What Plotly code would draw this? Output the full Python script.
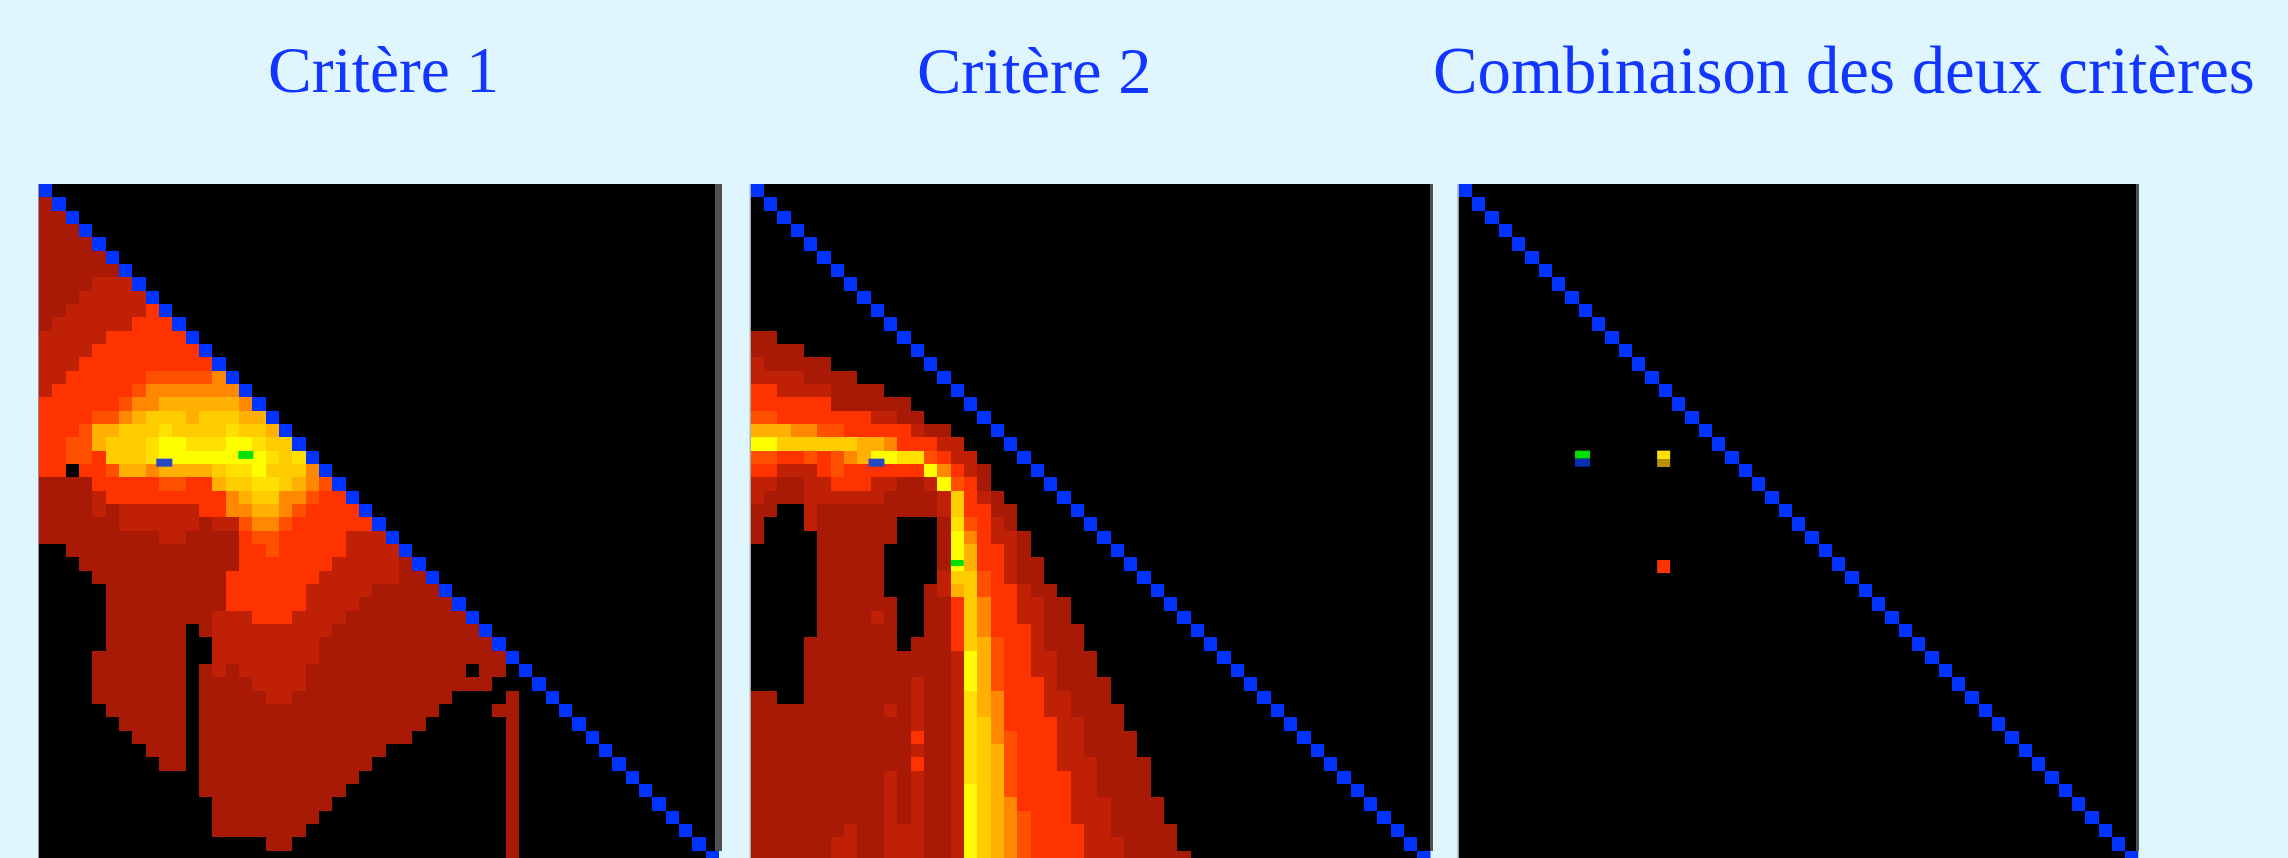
import plotly.graph_objects as go

TITLES = ["Critère 1", "Critère 2", "Combinaison des deux critères"]
TITLE_CENTERS = [383, 1034, 1844]
TITLE_SIZES = [65.5, 66.5, 66.8]

# Cell levels, written as runs per row: "<level>*<count>"; a row is padded with level 0 to its full width.
LEVEL_COLORS = {
    "0": "#000000", "1": "#A81A05", "2": "#C02005", "3": "#FF3300", "4": "#FF5000",
    "5": "#FF8800", "6": "#FFB000", "7": "#FFCC00", "8": "#FFE000", "9": "#FFFF00",
    "G": "#00E000", "B": "#0033FF", "M": "#2848C0", "D": "#B89000", "N": "#0830B0",
}

PANEL_1_ROWS = [
    "B", "1 B", "1*2 B", "1*3 B", "1*4 B", "1*5 B", "1*6 B", "1*4 2*3 B", "1*3 2*5 B",
    "1*2 2*6 3 B", "1 2*6 3*3 B", "2*5 3*6 B", "2*4 3*8 B", "2*3 3*10 B",
    "2*2 3*6 4*5 5 B", "2 3*6 4 5*7 B", "3*6 4 5*2 6*6 5 B",
    "3*4 4*2 5 6 7*3 6 7*3 6*2 B",
    "3*3 4 6*2 7*3 8 7*4 8 7*2 6 B",
    "3*2 4*2 6 7*3 8 9*2 8*3 9*2 8 7*2 B",
    "3*2 4*2 3 7*3 8 9*6 9 9 8 7 8 B",
    "3*2 0 3*2 4 6*2 5 6*4 7 8*2 9 7*3 5 B",
    "1*4 3*5 4*2 3*2 6 7*2 8*2 7 6 5 4 B",
    "1*4 2 3*9 5 6 7*2 5*2 4 3*2 B",
    "1*4 2 1 2*6 3*2 5*2 6*2 5 4 3*4 B",
    "1*6 2*6 1 2*2 4 5*2 4 3*6 B",
    "1*9 2*2 1*4 3 4*2 3*5 2*3 B",
    "0*2 1*13 3*2 4 3*5 2*4 B",
    "0*3 1*12 3*7 2*5 1 B",
    "0*4 1*10 3*7 2*6 1*2 B",
    "0*5 1*9 3*6 2*5 1*5 B",
    "0*5 1*9 3*6 2*4 1*7 B",
    "0*5 1*8 2*3 3*3 2*4 1*9 B",
    "0*5 1*6 0 1 2*9 1*11 B",
    "0*5 1*6 0*2 2*8 1*13 B",
    "0*4 1*7 0*2 2*8 1*14 B",
    "0*4 1*7 0 1 2 1 2*5 1*12 0 1*2 0 B",
    "0*4 1*7 0 1*4 2*4 1*14 0*3 B",
    "0*4 1*7 0 1*5 2*2 1*12 0*4 1 0*2 B",
    "0*5 1*6 0 1*18 0*4 1*2 0*3 B",
    "0*6 1*5 0 1*17 0*6 1 0*4 B",
    "0*7 1*4 0 1*16 0*7 1 0*5 B",
    "0*8 1*3 0 1*14 0*9 1 0*6 B",
    "0*9 1*2 0 1*13 0*10 1 0*7 B",
    "0*12 1*12 0*11 1 0*8 B",
    "0*12 1*11 0*12 1 0*9 B",
    "0*13 1*9 0*13 1 0*10 B",
    "0*13 1*8 0*14 1 0*11 B",
    "0*13 1*7 0*15 1 0*12 B",
    "0*17 1*2 0*16 1 0*13 B",
    "0*35 1 0*14 B",
]

PANEL_2_ROWS = [
    "B", "0 B", "0*2 B", "0*3 B", "0*4 B", "0*5 B", "0*6 B", "0*7 B", "0*8 B", "0*9 B", "0*10 B",
    "1*2 0*9 B",
    "1*4 0*8 B",
    "2 1*5 0*7 B",
    "2*4 1*4 0*6 B",
    "3*2 2*4 1*4 0*5 B",
    "3*6 1*6 0*4 B",
    "4*2 3*7 2*2 1*2 0*4 B",
    "6*3 5*2 4*2 3*5 2 1*2 0*3 B",
    "9*2 7*6 6*2 5 3*3 2*2 0*3 B",
    "4*2 3*2 4 3 4 5 6 9*2 8*2 4 3 2*2 0*3 B",
    "3*2 2*3 3 4 3*6 9 5 3 2 1 0*3 B",
    "2*2 1*2 2*2 3*3 2*2 1*2 2 9 4 3 1 0*4 B",
    "2 1*3 2*6 1*4 2 7 3 2 1 0*4 B",
    "1*2 0*2 2 1*9 2 7 3*2 1*2 0*4 B",
    "1 0*3 2 1*6 0*3 1 8 4 3 2 1 0*5 B",
    "1 0*4 1*6 0*3 1 9 5 3 2*2 1 0*5 B",
    "0*5 1*5 0*4 1 9 6 3*2 2 1 0*6 B",
    "0*5 1*5 0*4 1 9 6 3*2 2 1*2 0*6 B",
    "0*5 1*5 0*4 2 7*2 4 3 2 1*2 0*7 B",
    "0*5 1*5 0*3 1 2 6 7 4 3*2 2 1*2 0*7 B",
    "0*5 1*6 0*2 1*2 3 7 5 3*2 2*2 1*2 0*7 B",
    "0*5 1*4 2 1 0*2 1*2 3 7 5 3*2 2*2 1*2 0*8 B",
    "0*5 1*6 0*2 1*2 3 7 5 3*3 2 1*3 0*8 B",
    "0*4 1*7 0 1*3 3 7 6 4 3*2 2 1*3 0*9 B",
    "0*4 1*11 2 9 6 4 3*2 2*2 1*3 0*9 B",
    "0*4 1*11 2 9 6 4 3*2 2*2 1*3 0*10 B",
    "0*4 1*8 2 1*2 2 9 6 4 3*3 2 1*4 0*10 B",
    "1*2 0*2 1*8 2 1*2 2 8 6 5 3*3 2*2 1*3 0*11 B",
    "1*10 2 1 2 1*2 2 8 6 5 3*3 2*2 1*4 0*11 B",
    "1*12 2 1*2 2 8 7 5 3*4 2*2 1*3 0*12 B",
    "1*12 3 1*2 2 8 7 5 4 3*3 2*2 1*4 0*12 B",
    "1*12 2 1*2 2 8 7 6 4 3*3 2*2 1*4 0*13 B",
    "1*12 3 1*2 2 8 7 6 4 3*3 2*3 1*4 0*13 B",
    "1*10 2 1 2 1*2 2 8 7 6 4 3*4 2*2 1*4 0*14 B",
    "1*10 2 1 2 1*2 2 9 7 6 4 3*4 2*2 1*4 0*15 B",
    "1*10 2 1 2 1*2 2 9 7 6 5 3*4 2*3 1*4 0*15 B",
    "1*10 2 1 2 1*2 2 9 7 6 5 4 3*3 2*3 1*4 0*16 B",
    "1*7 2 1*2 2*3 1*2 2 9 7 6 5 4 3*4 2*2 1*5 0*16 B",
    "1*6 2*2 1*2 2*3 1*2 2 9 7 6 5 4 3*4 2*3 1*4 0*17 B",
    "1*6 2*2 1*2 2*3 1*2 2 9 7 6 5 4 3*4 2*3 1*5 0*17 B",
]

PANEL_3_ROWS = ["B"] + [f"0*{n} B" for n in range(1, 51)]

# Small marks that sit off the cell grid: column from/to, row from/to, level
PANEL_1_MARKS = [(8.8, 10.0, 20.6, 21.2, "M"), (14.95, 16.1, 20.02, 20.62, "G")]
PANEL_2_MARKS = [(8.83, 10.0, 20.6, 21.2, "M"), (15.0, 16.0, 28.2, 28.65, "G")]
PANEL_3_MARKS = [
    (8.74, 9.9, 20.0, 20.6, "G"), (8.74, 9.9, 20.6, 21.2, "N"),
    (14.9, 15.9, 20.0, 20.7, "8"), (14.9, 15.9, 20.7, 21.2, "D"),
    (14.9, 15.9, 28.2, 29.2, "3"),
]

PANEL_LEFT = [39, 750.7, 1458.5]
CELL = 13.333
TOP = 184
W, H = 2288, 858
N = 51
BG = "#E0F6FF"
TITLE_COLOR = "#1236FF"

codes = list(LEVEL_COLORS)
idx = {c: i for i, c in enumerate(codes)}
scale = []
for i, c in enumerate(codes):
    scale += [[i / len(codes), LEVEL_COLORS[c]], [(i + 1) / len(codes), LEVEL_COLORS[c]]]


def decode(rows):
    out = []
    for r, row in enumerate(rows):
        cells = []
        for tok in row.split():
            lev, _, n = tok.partition("*")
            cells += [idx[lev]] * int(n or 1)
        if cells[r] != idx["B"] or len(cells) != r + 1:
            raise ValueError(f"row {r}: {len(cells)}")
        out.append(cells + [0] * (N - len(cells)))
    return out


fig = go.Figure()
common = dict(colorscale=scale, zmin=-0.0, zmax=len(codes), showscale=False, hoverinfo="skip")
edges = list(range(N + 1))
panels = [(PANEL_1_ROWS, PANEL_1_MARKS), (PANEL_2_ROWS, PANEL_2_MARKS), (PANEL_3_ROWS, PANEL_3_MARKS)]
layout = {}
shapes = []
for i, (rows, marks) in enumerate(panels):
    suffix = "" if i == 0 else str(i + 1)
    ax = dict(xaxis="x" + suffix, yaxis="y" + suffix)
    z = [[v + 0.5 for v in row] for row in decode(rows)]
    fig.add_trace(go.Heatmap(z=z, x=edges, y=edges, **common, **ax))
    for x0, x1, y0, y1, lev in marks:
        fig.add_trace(go.Heatmap(z=[[idx[lev] + 0.5]], x=[x0, x1], y=[y0, y1], **common, **ax))
    left = PANEL_LEFT[i]
    layout["xaxis" + suffix] = dict(
        domain=[left / W, (left + N * CELL) / W], range=[0, N], anchor="y" + suffix,
        visible=False, fixedrange=True,
    )
    layout["yaxis" + suffix] = dict(
        domain=[0, (H - TOP) / H], range=[(H - TOP) / CELL, 0], anchor="x" + suffix,
        visible=False, fixedrange=True,
    )
    fig.add_annotation(
        text=TITLES[i], xref="paper", yref="paper", x=TITLE_CENTERS[i] / W, y=1 - 70 / H,
        xanchor="center", yanchor="middle", showarrow=False,
        font=dict(family="Liberation Serif", size=TITLE_SIZES[i], color=TITLE_COLOR),
    )
    # image frame: thin grey edge on the left and top, a wider strip on the right
    frame = dict(type="rect", xref="paper", yref="paper", layer="above", line_width=0)
    strip = [(715, 722), (1430, 1433), (2136, 2139)][i]
    shapes.append(dict(frame, x0=strip[0] / W, x1=strip[1] / W, y0=7 / H, y1=1 - TOP / H, fillcolor="#505050"))
    shapes.append(dict(frame, x0=(left - 1) / W, x1=left / W, y0=0, y1=1 - TOP / H, fillcolor="#909090"))

fig.update_layout(
    width=W, height=H, margin=dict(l=0, r=0, t=0, b=0), autosize=False,
    paper_bgcolor=BG, plot_bgcolor=BG, shapes=shapes, **layout,
)
fig.write_html(
    "out.html",
    config={"displayModeBar": False, "responsive": False},
    post_script=(
        f"document.body.style.margin='0';document.body.style.background='{BG}';"
        "document.documentElement.style.overflow='hidden';"
        "document.querySelector('.plotly-graph-div').style.filter='blur(0.7px)';"
    ),
)
